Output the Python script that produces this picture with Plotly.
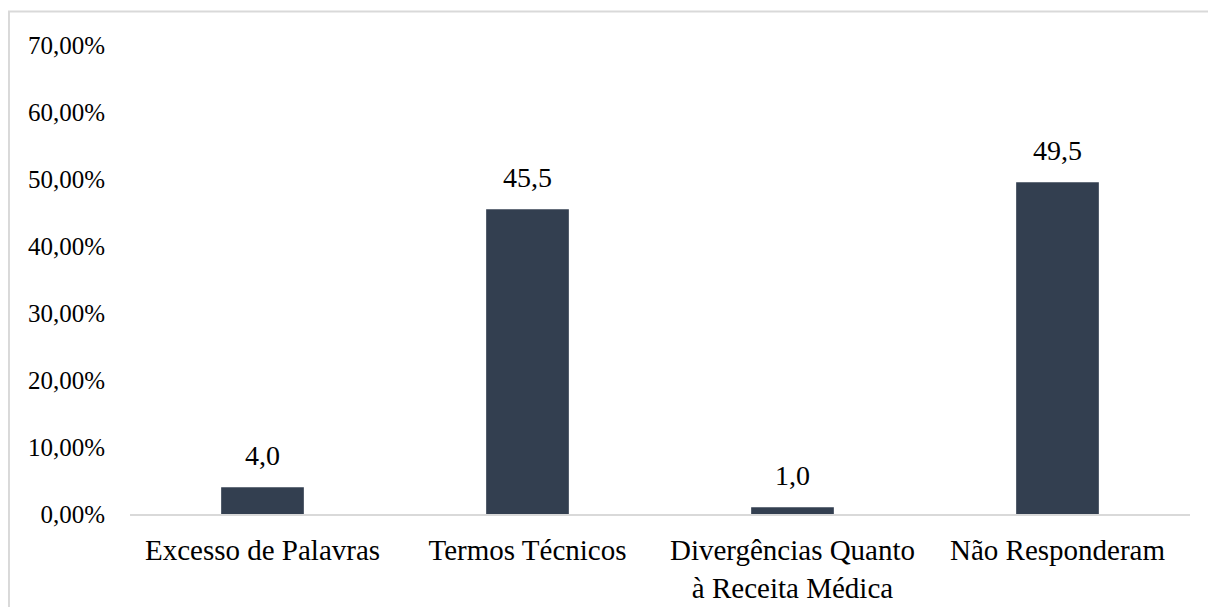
import plotly.graph_objects as go

categories = ["Excesso de Palavras", "Termos Técnicos",
              "Divergências Quanto<br>à Receita Médica", "Não Responderam"]
values = [4.0, 45.5, 1.0, 49.5]
labels = ["4,0", "45,5", "1,0", "49,5"]
y_ticks = [0, 0.1, 0.2, 0.3, 0.4, 0.5, 0.6, 0.7]

FONT = "Liberation Serif, Times New Roman, serif"
fs_y = 25
fs_x = 29
fs_lbl = 28

fig = go.Figure()
fig.add_trace(go.Bar(
    x=categories,
    y=[v / 100 for v in values],
    marker=dict(color="#333F50", line=dict(width=0)),
    hoverinfo="skip",
))

for c, v, t in zip(categories, values, labels):
    fig.add_annotation(x=c, y=v / 100, text=t, showarrow=False,
                       yanchor="bottom", yshift=14,
                       font=dict(family=FONT, size=fs_lbl, color="#000000"))

# light gray frame (cropped, only left/top visible)
fig.add_shape(type="rect", xref="paper", yref="paper",
              x0=-0.1142, x1=1.3, y0=-0.5, y1=1.0713,
              line=dict(color="#D9D9D9", width=2), layer="below")

fig.update_layout(
    width=1216, height=607,
    margin=dict(l=122, r=34, t=36.6, b=100.5, pad=0),
    paper_bgcolor="white", plot_bgcolor="white",
    separators=",.",
    showlegend=False,
    bargap=0.688,
    font=dict(family=FONT, size=fs_y, color="#000000"),
)
fig.update_xaxes(
    showgrid=False, showline=True, linecolor="#D9D9D9", linewidth=2,
    ticks="", ticklabelstandoff=9,
    tickfont=dict(family=FONT, size=fs_x, color="#000000"),
)
fig.update_yaxes(
    range=[0, 0.7], tickvals=y_ticks, tickformat=".2%",
    showgrid=False, showline=False, zeroline=False, ticks="",
    ticklabelstandoff=24,
    tickfont=dict(family=FONT, size=fs_y, color="#000000"),
)

fig.write_html("out.html")
